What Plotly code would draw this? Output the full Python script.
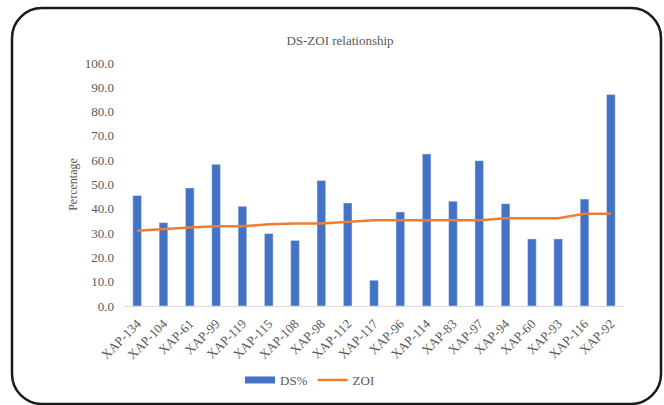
import plotly.graph_objects as go

categories = ["XAP-134", "XAP-104", "XAP-61", "XAP-99", "XAP-119", "XAP-115", "XAP-108",
              "XAP-98", "XAP-112", "XAP-117", "XAP-96", "XAP-114", "XAP-83", "XAP-97",
              "XAP-94", "XAP-60", "XAP-93", "XAP-116", "XAP-92"]
ds_pct = [45.5, 34.3, 48.6, 58.3, 41.0, 29.8, 27.0, 51.6, 42.4, 10.6,
          38.7, 62.6, 43.1, 59.8, 42.1, 27.6, 27.6, 44.0, 87.0]
zoi = [31.0, 31.8, 32.3, 32.8, 32.8, 33.6, 34.0, 34.0, 34.6, 35.3,
       35.3, 35.3, 35.3, 35.3, 36.1, 36.1, 36.1, 38.0, 38.0]
y_ticks = [0, 10, 20, 30, 40, 50, 60, 70, 80, 90, 100]

W, H = 664, 405
L, R, T, B = 124, 40, 63, 99
PW, PH = W - L - R, H - T - B
FONT = "Liberation Serif"
TXT = "#595959"
BLUE = "#4472C4"
ORANGE = "#ED7D31"

fig = go.Figure()
fig.add_trace(go.Bar(x=categories, y=ds_pct, name="DS%", marker_color=BLUE,
                     showlegend=False, legendgroup="ds"))
# legend-only entry so the DS% key is drawn as a wide bar like the original
fig.add_trace(go.Scatter(x=[None], y=[None], name="DS%", mode="lines",
                         line=dict(color=BLUE, width=7), legendgroup="ds"))
fig.add_trace(go.Scatter(x=categories, y=zoi, name="ZOI", mode="lines",
                         line=dict(color=ORANGE, width=2.5)))


def px(x, y):
    return (x - L) / PW, (H - B - y) / PH


def rounded_path(x0, y0, x1, y1, r):
    k = 0.5523 * r
    pts = [
        ("M", [(x0 + r, y0)]),
        ("L", [(x1 - r, y0)]),
        ("C", [(x1 - r + k, y0), (x1, y0 + r - k), (x1, y0 + r)]),
        ("L", [(x1, y1 - r)]),
        ("C", [(x1, y1 - r + k), (x1 - r + k, y1), (x1 - r, y1)]),
        ("L", [(x0 + r, y1)]),
        ("C", [(x0 + r - k, y1), (x0, y1 - r + k), (x0, y1 - r)]),
        ("L", [(x0, y0 + r)]),
        ("C", [(x0, y0 + r - k), (x0 + r - k, y0), (x0 + r, y0)]),
    ]
    s = ""
    for cmd, ps in pts:
        s += cmd + " " + " ".join("%.5f,%.5f" % px(a, b) for a, b in ps) + " "
    return s + "Z"


fig.add_shape(type="path", xref="paper", yref="paper",
              path=rounded_path(12, 8, 661, 404, 30),
              line=dict(color="#1a1a1a", width=2.5), fillcolor="rgba(0,0,0,0)")

fig.update_layout(
    width=W, height=H,
    margin=dict(l=L, r=R, t=T, b=B, autoexpand=False),
    paper_bgcolor="white", plot_bgcolor="white",
    font=dict(family=FONT, size=13, color=TXT),
    bargap=0.67,
    title=dict(text="DS-ZOI relationship", x=340 / W, xanchor="center",
               y=1 - 40 / H, yanchor="middle", xref="container", yref="container",
               font=dict(family=FONT, size=13, color=TXT)),
    legend=dict(orientation="h", x=(240 - L) / PW, xanchor="left",
                y=(H - B - 380) / PH, yanchor="middle", itemwidth=30,
                font=dict(family=FONT, size=13, color=TXT)),
    showlegend=True,
)
fig.update_xaxes(tickangle=-45, showline=True, linecolor="#D9D9D9", linewidth=1,
                 showgrid=False, ticks="", ticklabelstandoff=4,
                 tickfont=dict(family=FONT, size=13, color=TXT))
fig.update_yaxes(range=[0, 100], tickvals=y_ticks, tickformat=".1f", showgrid=False,
                 zeroline=False, ticks="", ticklabelstandoff=9,
                 tickfont=dict(family=FONT, size=13, color=TXT),
                 title=dict(text="Percentage", standoff=4,
                            font=dict(family=FONT, size=12, color=TXT)))

fig.write_html("out.html")
